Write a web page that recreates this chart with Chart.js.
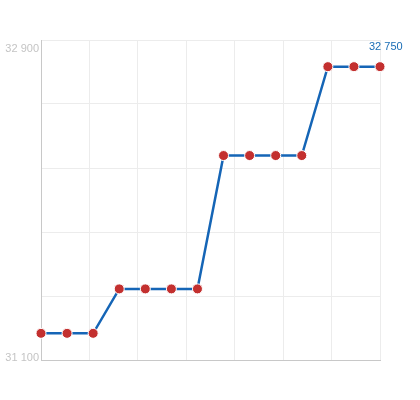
<!DOCTYPE html>
<html>
<head>
<meta charset="utf-8">
<script src="https://cdn.jsdelivr.net/npm/chart.js@4/dist/chart.umd.min.js"></script>
<style>
html,body{margin:0;padding:0;background:#fff;}
#wrap{width:420px;height:400px;position:relative;}
</style>
</head>
<body>
<div id="wrap"><canvas id="c" width="420" height="400"></canvas></div>
<script>
// Data
const pointIndex = [0,1,2,3,4,5,6,7,8,9,10,11,12,13];
const values = [31250,31250,31250,31500,31500,31500,31500,32250,32250,32250,32250,32750,32750,32750];
const yMin = 31100;
const yMax = 32900;
const yStep = 360;
const xGridCount = 7;
const yTickLabels = ["31 100", "32 900"];
const lastValueLabel = "32 750";

const points = pointIndex.map((x, i) => ({x: x, y: values[i]}));

const labelsPlugin = {
  id: 'labelsPlugin',
  afterDraw(chart) {
    const ctx = chart.ctx;
    const ys = chart.scales.y;
    const area = chart.chartArea;
    ctx.save();
    ctx.font = '11px "Liberation Sans", Arial, sans-serif';
    ctx.fillStyle = '#c4c4c4';
    ctx.textAlign = 'right';
    ctx.textBaseline = 'top';
    ctx.fillText(yTickLabels[1], area.left - 2, ys.getPixelForValue(yMax) + 3);
    ctx.textBaseline = 'bottom';
    ctx.fillText(yTickLabels[0], area.left - 2, ys.getPixelForValue(yMin) + 3);
    const meta = chart.getDatasetMeta(0);
    const last = meta.data[meta.data.length - 1];
    ctx.fillStyle = '#1a6db5';
    ctx.textAlign = 'left';
    ctx.textBaseline = 'middle';
    ctx.fillText(lastValueLabel, last.x - 11, last.y - 20);
    ctx.restore();
  }
};

new Chart(document.getElementById('c'), {
  type: 'line',
  data: {
    datasets: [{
      data: points,
      borderColor: '#1565b6',
      borderWidth: 2.5,
      pointBackgroundColor: '#c3302f',
      pointBorderColor: '#ffffff',
      pointBorderWidth: 1,
      pointRadius: 5,
      tension: 0,
      clip: false
    }]
  },
  options: {
    responsive: false,
    animation: false,
    events: [],
    layout: {padding: {left: 41, top: 40, right: 40, bottom: 40}},
    plugins: {legend: {display: false}, tooltip: {enabled: false}},
    scales: {
      x: {
        type: 'linear',
        min: pointIndex[0],
        max: pointIndex[pointIndex.length - 1],
        afterBuildTicks(scale) {
          const span = scale.max - scale.min;
          const t = [];
          for (let k = 0; k <= xGridCount; k++) t.push({value: scale.min + span * k / xGridCount});
          scale.ticks = t;
        },
        ticks: {display: false},
        grid: {color: '#ececec', drawTicks: false, lineWidth: 1},
        border: {color: '#c8c8c8', width: 1}
      },
      y: {
        min: yMin,
        max: yMax,
        ticks: {display: false, stepSize: yStep},
        grid: {color: '#ececec', drawTicks: false, lineWidth: 1},
        border: {color: '#c8c8c8', width: 1}
      }
    }
  },
  plugins: [labelsPlugin]
});
</script>
</body>
</html>
